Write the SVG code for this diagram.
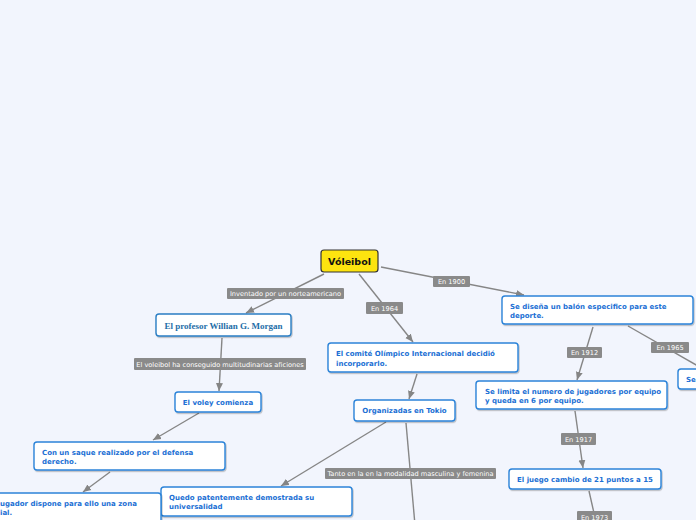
<svg xmlns="http://www.w3.org/2000/svg" width="696" height="520" viewBox="0 0 696 520">
<defs>
<marker id="arr" markerUnits="userSpaceOnUse" markerWidth="9" markerHeight="8" refX="8" refY="4" orient="auto"><path d="M0,0.5 L8,4 L0,7.5 z" fill="#858585"/></marker>
<filter id="sh" x="-10%" y="-20%" width="120%" height="150%"><feDropShadow dx="0.8" dy="1.2" stdDeviation="0.6" flood-color="#000" flood-opacity="0.25"/></filter>
</defs>
<style>
.bg{fill:#f2f5fd}
.e{stroke:#868686;stroke-width:1.4;fill:none}
.ea{marker-end:url(#arr)}
.lb{fill:#8a8a8a}
.lt{fill:#fff;font-family:"DejaVu Sans",Verdana,sans-serif;font-size:6.6px;text-anchor:middle}
.n{fill:#fff;stroke:#2b83d9;stroke-width:1.4;filter:url(#sh)}
.t{fill:#1b6fd4;font-family:"DejaVu Sans",Verdana,sans-serif;font-size:7px;font-weight:bold}
.c{text-anchor:middle}
</style>
<rect class="bg" x="0" y="0" width="696" height="520"/>
<g id="connectors">
<path class="e ea" d="M324,274 L246,313"/>
<path class="e ea" d="M359,274 L413,342"/>
<path class="e ea" d="M381,267 L524,295"/>
<path class="e ea" d="M222,338 L219,391"/>
<path class="e ea" d="M417,374 L409,399"/>
<path class="e ea" d="M593,327 L577,380"/>
<path class="e" d="M628,326 L712,374"/>
<path class="e ea" d="M575,411 L583,468"/>
<path class="e" d="M589,491 L596,522"/>
<path class="e ea" d="M386,422 L281,486"/>
<path class="e" d="M406,423 L415,525"/>
<path class="e ea" d="M199,413 L153,440"/>
<path class="e ea" d="M110,472 L83,492"/>
<rect class="lb" x="227" y="288" width="117" height="11" rx="1"/><text class="lt" x="285.5" y="296">Inventado por un norteamericano</text>
<rect class="lb" x="366" y="302" width="37" height="12" rx="1"/><text class="lt" x="384.5" y="310.5">En 1964</text>
<rect class="lb" x="433" y="276" width="37" height="11" rx="1"/><text class="lt" x="451.5" y="284">En 1900</text>
<rect class="lb" x="134" y="358" width="172" height="12" rx="1"/><text class="lt" x="220" y="366.5">El voleibol ha conseguido multitudinarias aficiones</text>
<rect class="lb" x="567" y="347" width="35" height="11" rx="1"/><text class="lt" x="584.5" y="355">En 1912</text>
<rect class="lb" x="651" y="342" width="38" height="11" rx="1"/><text class="lt" x="670" y="350">En 1965</text>
<rect class="lb" x="561" y="433" width="35" height="12" rx="1"/><text class="lt" x="578.5" y="441.5">En 1917</text>
<rect class="lb" x="325" y="468" width="171" height="11" rx="1"/><text class="lt" x="410.5" y="476">Tanto en la en la modalidad masculina y femenina</text>
<rect class="lb" x="577" y="511" width="35" height="12" rx="1"/><text class="lt" x="594.5" y="519.5">En 1973</text>
</g>
<g id="voleibol">
<rect x="321" y="250" width="57" height="22" rx="3" fill="#fde40f" stroke="#333" stroke-width="1.2"/>
<text x="349.5" y="264.5" font-family="'DejaVu Sans',Verdana,sans-serif" font-size="9.5" font-weight="bold" fill="#111" text-anchor="middle">Vóleibol</text>
</g>
<g id="morgan">
<rect class="n" x="156" y="314" width="135" height="22" rx="3" style="stroke:#2a7ec4"/>
<text x="223.5" y="328.5" font-family="'Liberation Serif','Times New Roman',serif" font-size="9" font-weight="bold" fill="#1e6ea8" text-anchor="middle">El profesor Willian G. Morgan</text>
</g>
<g id="comite">
<rect class="n" x="328" y="343" width="190" height="29" rx="3"/>
<text class="t" x="336" y="356">El comité Olímpico Internacional decidió</text>
<text class="t" x="336" y="366">incorporarlo.</text>
</g>
<g id="balon">
<rect class="n" x="502" y="296" width="191" height="28" rx="3"/>
<text class="t" x="510" y="309">Se diseña un balón especifico para este</text>
<text class="t" x="510" y="318">deporte.</text>
</g>
<g id="se">
<rect class="n" x="678" y="369" width="60" height="20" rx="3"/>
<text class="t" x="686" y="382">Se</text>
</g>
<g id="jugadores">
<rect class="n" x="476" y="381" width="191" height="28" rx="3"/>
<text class="t" x="485" y="393.5">Se limita el numero de jugadores por equipo</text>
<text class="t" x="485" y="403">y queda en 6 por equipo.</text>
</g>
<g id="juego">
<rect class="n" x="509" y="469" width="152" height="20" rx="3"/>
<text class="t c" x="585" y="482">El juego cambio de 21 puntos a 15</text>
</g>
<g id="tokio">
<rect class="n" x="354" y="400" width="101" height="21" rx="3"/>
<text class="t c" x="404.5" y="413">Organizadas en Tokio</text>
</g>
<g id="quedo">
<rect class="n" x="161" y="487" width="191" height="29" rx="3"/>
<text class="t" x="169" y="500">Quedo patentemente demostrada su</text>
<text class="t" x="169" y="509">universalidad</text>
</g>
<g id="voley">
<rect class="n" x="175" y="392" width="86" height="20" rx="3"/>
<text class="t c" x="218" y="405">El voley comienza</text>
</g>
<g id="saque">
<rect class="n" x="34" y="442" width="191" height="28" rx="3"/>
<text class="t" x="42" y="455">Con un saque realizado por el defensa</text>
<text class="t" x="42" y="464">derecho.</text>
</g>
<g id="jugador">
<rect class="n" x="-40" y="493" width="201" height="40" rx="3"/>
<text class="t" x="0" y="506">ugador dispone para ello una zona</text>
<text class="t" x="0" y="515">ial.</text>
</g>
</svg>
